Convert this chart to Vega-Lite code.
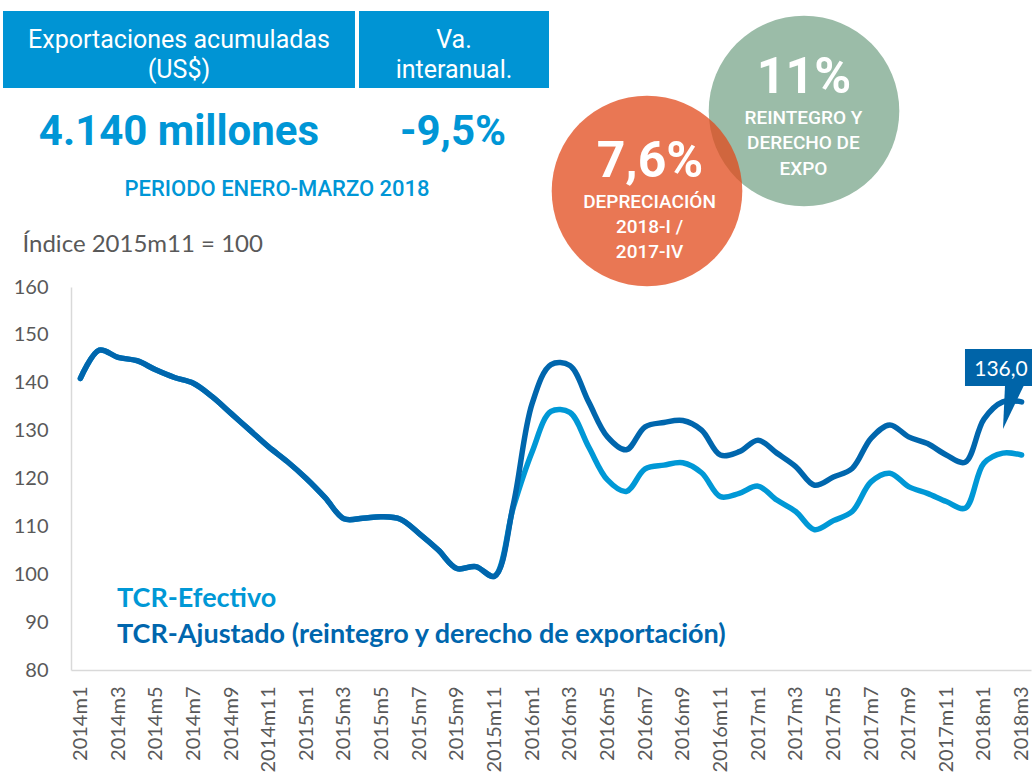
{
  "$schema": "https://vega.github.io/schema/vega-lite/v6.json",
  "width": 960,
  "height": 383,
  "autosize": {"type": "none"},
  "padding": {"left": 71, "top": 287, "right": 4, "bottom": 105},
  "background": "white",
  "config": {"view": {"stroke": null}, "font": "Lato"},
  "layer": [
    {
      "data": {"values": [
        {"n": 0, "periodo": "2014m1", "efectivo": 140.9, "ajustado": 140.9},
        {"n": 1, "periodo": "2014m2", "efectivo": 146.8, "ajustado": 146.8},
        {"n": 2, "periodo": "2014m3", "efectivo": 145.3, "ajustado": 145.3},
        {"n": 3, "periodo": "2014m4", "efectivo": 144.6, "ajustado": 144.6},
        {"n": 4, "periodo": "2014m5", "efectivo": 142.7, "ajustado": 142.7},
        {"n": 5, "periodo": "2014m6", "efectivo": 141.1, "ajustado": 141.1},
        {"n": 6, "periodo": "2014m7", "efectivo": 139.9, "ajustado": 139.9},
        {"n": 7, "periodo": "2014m8", "efectivo": 137.1, "ajustado": 137.1},
        {"n": 8, "periodo": "2014m9", "efectivo": 133.6, "ajustado": 133.6},
        {"n": 9, "periodo": "2014m10", "efectivo": 130.1, "ajustado": 130.1},
        {"n": 10, "periodo": "2014m11", "efectivo": 126.6, "ajustado": 126.6},
        {"n": 11, "periodo": "2014m12", "efectivo": 123.5, "ajustado": 123.5},
        {"n": 12, "periodo": "2015m1", "efectivo": 120.0, "ajustado": 120.0},
        {"n": 13, "periodo": "2015m2", "efectivo": 116.0, "ajustado": 116.0},
        {"n": 14, "periodo": "2015m3", "efectivo": 111.6, "ajustado": 111.6},
        {"n": 15, "periodo": "2015m4", "efectivo": 111.7, "ajustado": 111.7},
        {"n": 16, "periodo": "2015m5", "efectivo": 112.0, "ajustado": 112.0},
        {"n": 17, "periodo": "2015m6", "efectivo": 111.5, "ajustado": 111.5},
        {"n": 18, "periodo": "2015m7", "efectivo": 108.5, "ajustado": 108.5},
        {"n": 19, "periodo": "2015m8", "efectivo": 105.1, "ajustado": 105.1},
        {"n": 20, "periodo": "2015m9", "efectivo": 101.2, "ajustado": 101.2},
        {"n": 21, "periodo": "2015m10", "efectivo": 101.6, "ajustado": 101.6},
        {"n": 22, "periodo": "2015m11", "efectivo": 99.6, "ajustado": 99.6},
        {"n": 23, "periodo": "2015m12", "efectivo": 114.0, "ajustado": 114.6},
        {"n": 24, "periodo": "2016m1", "efectivo": 125.6, "ajustado": 135.7},
        {"n": 25, "periodo": "2016m2", "efectivo": 134.0, "ajustado": 143.8},
        {"n": 26, "periodo": "2016m3", "efectivo": 133.8, "ajustado": 143.6},
        {"n": 27, "periodo": "2016m4", "efectivo": 126.6, "ajustado": 136.0},
        {"n": 28, "periodo": "2016m5", "efectivo": 119.7, "ajustado": 128.7},
        {"n": 29, "periodo": "2016m6", "efectivo": 117.3, "ajustado": 126.0},
        {"n": 30, "periodo": "2016m7", "efectivo": 122.0, "ajustado": 130.8},
        {"n": 31, "periodo": "2016m8", "efectivo": 122.8, "ajustado": 131.7},
        {"n": 32, "periodo": "2016m9", "efectivo": 123.3, "ajustado": 132.1},
        {"n": 33, "periodo": "2016m10", "efectivo": 121.2, "ajustado": 130.1},
        {"n": 34, "periodo": "2016m11", "efectivo": 116.2, "ajustado": 124.9},
        {"n": 35, "periodo": "2016m12", "efectivo": 116.9, "ajustado": 125.6},
        {"n": 36, "periodo": "2017m1", "efectivo": 118.4, "ajustado": 128.0},
        {"n": 37, "periodo": "2017m2", "efectivo": 115.5, "ajustado": 125.3},
        {"n": 38, "periodo": "2017m3", "efectivo": 113.1, "ajustado": 122.5},
        {"n": 39, "periodo": "2017m4", "efectivo": 109.3, "ajustado": 118.6},
        {"n": 40, "periodo": "2017m5", "efectivo": 111.2, "ajustado": 120.3},
        {"n": 41, "periodo": "2017m6", "efectivo": 113.1, "ajustado": 122.1},
        {"n": 42, "periodo": "2017m7", "efectivo": 119.3, "ajustado": 128.4},
        {"n": 43, "periodo": "2017m8", "efectivo": 121.1, "ajustado": 131.2},
        {"n": 44, "periodo": "2017m9", "efectivo": 118.3, "ajustado": 128.7},
        {"n": 45, "periodo": "2017m10", "efectivo": 116.9, "ajustado": 127.3},
        {"n": 46, "periodo": "2017m11", "efectivo": 115.2, "ajustado": 124.9},
        {"n": 47, "periodo": "2017m12", "efectivo": 113.8, "ajustado": 123.4},
        {"n": 48, "periodo": "2018m1", "efectivo": 123.2, "ajustado": 132.4},
        {"n": 49, "periodo": "2018m2", "efectivo": 125.3, "ajustado": 136.0},
        {"n": 50, "periodo": "2018m3", "efectivo": 124.9, "ajustado": 136.0}
      ]},
      "transform": [{"fold": ["efectivo", "ajustado"], "as": ["serie", "valor"]}],
      "mark": {"type": "line", "interpolate": "catmull-rom", "strokeWidth": 5.5, "strokeCap": "round", "strokeJoin": "round"},
      "encoding": {
        "x": {
          "field": "n", "type": "quantitative",
          "scale": {"domain": [-0.5, 50.5], "nice": false, "zero": false},
          "axis": {
            "title": null, "values": [0,2,4,6,8,10,12,14,16,18,20,22,24,26,28,30,32,34,36,38,40,42,44,46,48,50],
            "tickCount": 100,
            "labelExpr": "(2014 + floor(datum.value / 12)) + 'm' + (datum.value % 12 + 1)",
            "labelAngle": 270, "labelAlign": "right", "labelBaseline": "middle", "labelPadding": 16,
            "labelFont": "Lato", "labelFontSize": 20, "labelColor": "#595959",
            "ticks": false, "grid": false, "domainColor": "#d9d9d9", "domainWidth": 1.5,
            "labelOverlap": false, "labelFlush": false, "labelBound": false
          }
        },
        "y": {
          "field": "valor", "type": "quantitative",
          "scale": {"domain": [80, 160], "nice": false, "zero": false},
          "axis": {
            "values": [80,90,100,110,120,130,140,150,160],
            "tickCount": 20,
            "labelPadding": 23, "labelFont": "Lato", "labelFontSize": 20, "labelColor": "#595959",
            "ticks": false, "grid": false, "domainColor": "#d9d9d9", "domainWidth": 1.5,
            "labelFlush": false, "labelOverlap": false,
            "title": "Índice 2015m11 = 100", "titleAngle": 0, "titleAlign": "left", "titleBaseline": "alphabetic",
            "titleX": -49, "titleY": -36, "titleFont": "Lato", "titleFontSize": 24, "titleFontWeight": "normal", "titleColor": "#595959"
          }
        },
        "color": {
          "field": "serie", "type": "nominal",
          "scale": {"domain": ["efectivo", "ajustado"], "range": ["#0098d6", "#0066ad"]},
          "legend": {
            "orient": "none", "legendX": 19, "legendY": 298, "title": null,
            "symbolSize": 0, "symbolStrokeWidth": 0, "symbolOpacity": 0, "labelOffset": 0,
            "labelFont": "Lato", "labelFontSize": 27, "labelFontWeight": "bold", "rowPadding": 8, "padding": 0,
            "labelLimit": 900,
            "labelExpr": "datum.label == 'efectivo' ? 'TCR-Efectivo' : 'TCR-Ajustado (reintegro y derecho de exportación)'",
            "encode": {"labels": {"update": {"fill": {"scale": "color", "field": "value"}}}}
          }
        }
      }
    },
    {
      "data": {"values": [{}]},
      "mark": {"type": "rect", "color": "#0094d4"},
      "encoding": {"x": {"datum": -4.112}, "x2": {"datum": 14.587}, "y": {"datum": 217.65}, "y2": {"datum": 201.57}}
    },
    {
      "data": {"values": [{}]},
      "mark": {"type": "rect", "color": "#0094d4"},
      "encoding": {"x": {"datum": 14.8}, "x2": {"datum": 24.894}, "y": {"datum": 217.65}, "y2": {"datum": 201.57}}
    },
    {
      "data": {"values": [{}]},
      "mark": {"type": "text", "text": ["Exportaciones acumuladas", "(US$)"], "font": "Roboto", "fontSize": 25, "color": "white", "align": "center", "baseline": "alphabetic", "lineHeight": 30},
      "encoding": {"x": {"datum": 5.237}, "y": {"datum": 210.0}}
    },
    {
      "data": {"values": [{}]},
      "mark": {"type": "text", "text": ["Va.", "interanual."], "font": "Roboto", "fontSize": 25, "color": "white", "align": "center", "baseline": "alphabetic", "lineHeight": 30},
      "encoding": {"x": {"datum": 19.847}, "y": {"datum": 210.0}}
    },
    {
      "data": {"values": [{}]},
      "mark": {"type": "text", "text": "4.140 millones", "font": "Roboto", "fontSize": 42, "fontWeight": "bold", "color": "#0096d6", "align": "center", "baseline": "alphabetic"},
      "encoding": {"x": {"datum": 5.237}, "y": {"datum": 189.6}}
    },
    {
      "data": {"values": [{}]},
      "mark": {"type": "text", "text": "-9,5%", "font": "Roboto", "fontSize": 42, "fontWeight": "bold", "color": "#0096d6", "align": "center", "baseline": "alphabetic"},
      "encoding": {"x": {"datum": 19.794}, "y": {"datum": 189.6}}
    },
    {
      "data": {"values": [{}]},
      "mark": {"type": "text", "text": "PERIODO ENERO-MARZO 2018", "font": "Roboto", "fontSize": 22, "fontWeight": 500, "color": "#0096d6", "align": "center", "baseline": "alphabetic"},
      "encoding": {"x": {"datum": 10.444}, "y": {"datum": 179.01}}
    },
    {
      "data": {"values": [{}]},
      "mark": {"type": "point", "shape": "circle", "filled": true, "size": 36328, "color": "#9bbca8", "opacity": 1},
      "encoding": {"x": {"datum": 38.441}, "y": {"datum": 196.76}}
    },
    {
      "data": {"values": [{}]},
      "mark": {"type": "point", "shape": "circle", "filled": true, "size": 36328, "color": "#e24a1b", "opacity": 0.75},
      "encoding": {"x": {"datum": 30.1}, "y": {"datum": 180.05}}
    },
    {
      "data": {"values": [{}]},
      "mark": {"type": "text", "text": "7,6%", "font": "Roboto", "fontSize": 50, "fontWeight": "bold", "color": "white", "align": "center", "baseline": "alphabetic"},
      "encoding": {"x": {"datum": 30.259}, "y": {"datum": 182.98}}
    },
    {
      "data": {"values": [{}]},
      "mark": {"type": "text", "text": ["DEPRECIACIÓN", "2018-I /", "2017-IV"], "font": "Roboto", "fontSize": 19, "fontWeight": 500, "color": "white", "align": "center", "baseline": "alphabetic", "lineHeight": 25},
      "encoding": {"x": {"datum": 30.233}, "y": {"datum": 176.44}}
    },
    {
      "data": {"values": [{}]},
      "mark": {"type": "text", "text": "11%", "font": "Roboto", "fontSize": 50, "fontWeight": "bold", "color": "white", "align": "center", "baseline": "alphabetic"},
      "encoding": {"x": {"datum": 38.441}, "y": {"datum": 200.52}}
    },
    {
      "data": {"values": [{}]},
      "mark": {"type": "text", "text": ["REINTEGRO Y", "DERECHO DE", "EXPO"], "font": "Roboto", "fontSize": 19, "fontWeight": 500, "color": "white", "align": "center", "baseline": "alphabetic", "lineHeight": 25.5},
      "encoding": {"x": {"datum": 38.41}, "y": {"datum": 194.05}}
    },
    {
      "data": {"values": [{}]},
      "mark": {"type": "rect", "color": "#0064a8"},
      "encoding": {"x": {"datum": 46.993}, "x2": {"datum": 50.553}, "y": {"datum": 147.05}, "y2": {"datum": 139.32}}
    },
    {
      "data": {"values": [{}]},
      "mark": {"type": "point", "shape": "M-0.29,-0.95L0.5,-0.95L-0.375,0.875Z", "filled": true, "size": 2304, "color": "#0064a8", "opacity": 1},
      "encoding": {"x": {"datum": 49.49}, "y": {"datum": 134.73}}
    },
    {
      "data": {"values": [{}]},
      "mark": {"type": "text", "text": "136,0", "font": "Lato", "fontSize": 21, "color": "white", "align": "center", "baseline": "alphabetic"},
      "encoding": {"x": {"datum": 48.905}, "y": {"datum": 141.41}}
    }
  ]
}
